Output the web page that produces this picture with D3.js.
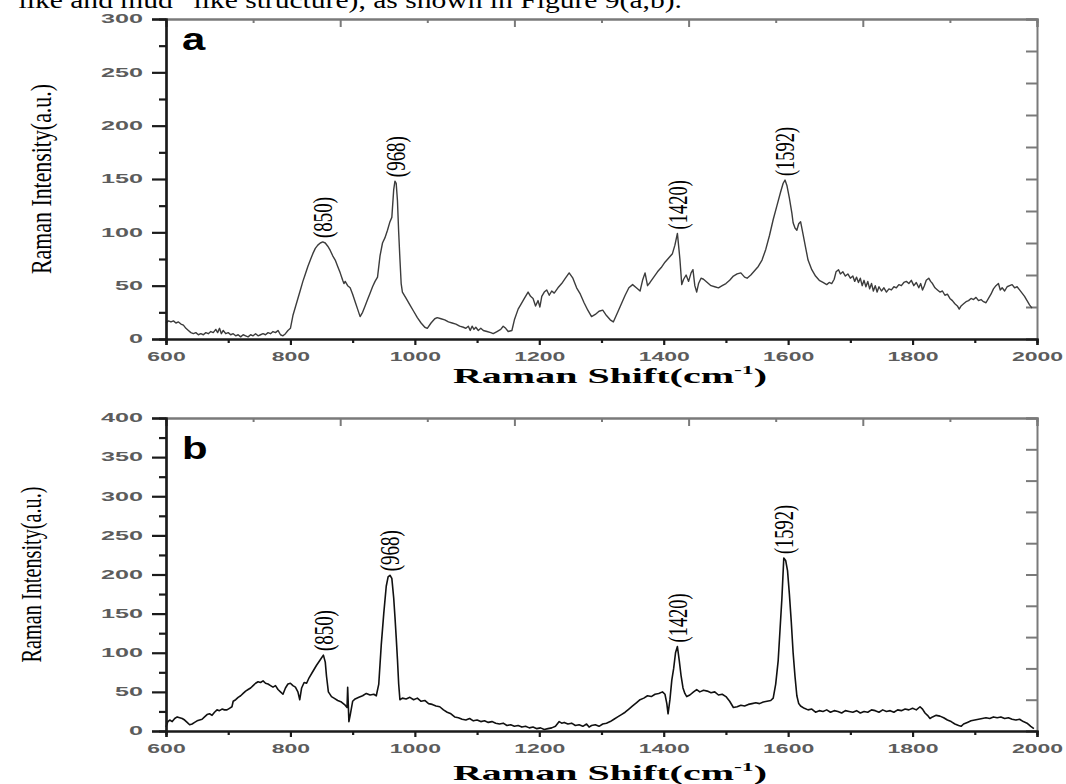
<!DOCTYPE html>
<html>
<head>
<meta charset="utf-8">
<script src="https://cdn.jsdelivr.net/npm/d3@7"></script>
<style>
  body { margin: 0; background: #fff; }
  svg { display: block; }
</style>
</head>
<body>
<svg id="chart" width="1066" height="784"></svg>
<script>
// x ticks (cm-1) and y ticks for each panel
var xMajor = [600, 800, 1000, 1200, 1400, 1600, 1800, 2000];
var xMinor = [700, 900, 1100, 1300, 1500, 1700, 1900];
var yMajorA = [0, 50, 100, 150, 200, 250, 300];
var yMajorB = [0, 50, 100, 150, 200, 250, 300, 350, 400];

// peak annotations [shift, intensity, label]
var peaksA = [[852, 91, "(850)"], [969, 148, "(968)"], [1422, 99, "(1420)"], [1595, 149, "(1592)"]];
var peaksB = [[853, 97, "(850)"], [960, 199, "(968)"], [1422, 108, "(1420)"], [1593, 221, "(1592)"]];

// spectrum a: [Raman shift, intensity]
var spectrumA = [
[600,15],[604,17],[608,16],[612,17],[616,15],[620,16],[624,14],[628,13],[632,10],[636,8],[640,6],[644,5],[648,6],[652,4],[656,5],[660,4],[664,6],[668,5],[672,7],[676,6],[680,9],[683,6],[686,10],[689,5],[692,8],[696,5],[700,6],[704,4],[708,5],[712,3],[716,4],[720,2],[724,4],[728,3],[732,2],[736,4],[740,3],[744,5],[748,3],[752,4],[756,5],[760,4],[764,6],[768,5],[772,7],[776,6],[780,8],[784,4],[788,3],[792,5],[796,8],[800,10],
[804,22],[808,30],[812,38],[816,46],[820,54],[824,61],[828,68],[832,74],[836,80],[840,85],[844,88],[848,90],[852,91],[856,90],[860,87],[864,83],[868,78],[872,74],[876,68],[880,62],[884,55],[886,52],[888,54],[892,50],[896,48],[900,42],[904,35],[908,28],[912,21],[916,25],[920,31],[924,37],[928,43],[932,49],[936,54],[940,58],[944,78],[948,90],[952,95],[956,102],[960,110],[963,114],[966,140],[968,148],[970,146],[972,130],[974,100],[976,75],[978,52],[980,44],[986,38],[992,32],[998,26],[1004,20],[1010,15],[1016,11],[1020,10],[1026,15],[1032,19],[1036,20],[1042,19],[1048,18],[1054,16],[1060,15],[1066,14],[1072,12],[1078,11],[1082,10],[1086,12],[1089,8],[1092,12],[1095,9],[1098,11],[1102,8],[1106,10],[1110,8],[1116,7],[1122,6],[1126,5],[1132,7],[1138,9],[1142,12],[1146,10],[1150,7],[1156,8],
[1160,18],[1166,28],[1170,32],[1176,38],[1182,44],[1186,40],[1190,38],[1194,31],[1198,36],[1201,30],[1204,40],[1208,44],[1212,46],[1216,41],[1220,45],[1224,43],[1230,48],[1236,52],[1242,57],[1248,62],[1254,57],[1260,48],[1266,42],[1272,34],[1278,27],[1284,21],[1290,23],[1296,26],[1302,27],[1308,22],[1314,18],[1319,16],[1326,25],[1332,33],[1338,41],[1344,48],[1350,51],[1356,48],[1362,45],[1366,55],[1370,62],[1374,50],[1378,53],[1384,58],[1390,63],[1396,67],[1402,72],[1408,76],[1414,80],[1418,88],[1422,99],[1426,75],[1429,51],[1432,56],[1436,60],[1440,54],[1444,62],[1447,65],[1450,50],[1453,44],[1456,52],[1460,57],[1464,56],[1470,53],[1476,50],[1482,49],[1488,48],[1494,50],[1500,52],[1506,55],[1512,59],[1518,61],[1524,62],[1530,58],[1534,57],[1540,60],[1546,64],[1552,68],[1558,74],[1564,84],[1570,97],[1576,112],[1582,125],[1588,138],[1592,146],[1595,149],[1598,144],[1602,132],[1606,118],[1608,109],[1611,104],[1614,102],[1617,108],[1620,110],[1624,98],[1628,86],[1632,74],[1638,65],[1644,59],[1650,55],[1656,53],[1662,51],[1666,53],[1670,52],[1674,56],[1677,63],[1681,65],[1684,61],[1688,63],[1692,59],[1696,61],[1700,57],[1704,59],[1707,54],[1710,58],[1713,53],[1716,57],[1719,50],[1722,55],[1725,49],[1728,54],[1731,47],[1734,52],[1737,45],[1740,50],[1743,44],[1746,49],[1750,45],[1754,48],[1758,44],[1762,47],[1766,46],[1770,49],[1774,48],[1778,51],[1782,50],[1786,53],[1790,54],[1794,52],[1798,55],[1802,50],[1806,53],[1810,48],[1813,52],[1816,46],[1819,50],[1822,55],[1826,57],[1829,54],[1832,52],[1836,48],[1840,46],[1844,44],[1848,45],[1852,41],[1856,42],[1860,38],[1864,36],[1868,33],[1872,31],[1875,28],[1878,31],[1882,33],[1886,35],[1890,36],[1894,38],[1898,37],[1902,39],[1906,36],[1910,37],[1914,35],[1918,34],[1922,38],[1926,42],[1930,47],[1934,50],[1938,52],[1941,46],[1944,48],[1948,45],[1952,49],[1956,50],[1960,51],[1964,48],[1968,49],[1972,46],[1976,43],[1980,40],[1984,36],[1988,32],[1992,29]
];

// spectrum b
var spectrumB = [
[600,5],[603,12],[606,14],[610,12],[614,16],[618,18],[622,17],[626,16],[630,14],[634,11],[638,8],[642,9],[646,11],[650,13],[654,14],[658,15],[662,18],[666,21],[670,22],[674,20],[678,24],[682,27],[686,26],[690,28],[694,27],[698,27],[702,29],[706,31],[708,38],[712,40],[716,43],[720,45],[724,48],[728,51],[732,53],[736,55],[740,58],[744,61],[748,63],[752,62],[756,64],[760,61],[764,60],[768,58],[772,56],[776,58],[780,53],[784,50],[788,47],[792,55],[796,60],[800,61],[804,58],[808,56],[812,50],[815,40],[818,55],[822,62],[826,61],[830,68],[836,76],[842,84],[848,91],[853,97],[856,88],[858,70],[861,50],[866,44],[870,42],[876,39],[882,37],[888,33],[891,30],[892,56],[894,12],[896,20],[900,38],[904,41],[910,43],[916,45],[922,48],[928,46],[934,47],[938,45],[942,60],[946,110],[950,150],[954,185],[957,197],[960,199],[963,195],[966,170],[968,146],[970,120],[972,92],[974,60],[976,40],[980,42],[986,41],[992,43],[998,40],[1004,42],[1010,38],[1016,39],[1022,35],[1028,34],[1034,32],[1040,31],[1046,27],[1052,24],[1058,22],[1064,18],[1070,17],[1076,15],[1082,14],[1088,16],[1094,13],[1100,14],[1106,12],[1112,13],[1118,11],[1124,12],[1130,10],[1136,9],[1142,10],[1148,7],[1154,8],[1160,6],[1166,7],[1172,5],[1178,6],[1184,4],[1190,5],[1196,3],[1202,4],[1208,2],[1214,3],[1220,4],[1226,6],[1232,12],[1236,10],[1240,11],[1246,9],[1252,10],[1258,7],[1264,8],[1270,6],[1276,9],[1280,5],[1284,7],[1290,8],[1296,6],[1302,9],[1308,10],[1314,12],[1320,15],[1326,18],[1332,21],[1338,24],[1344,28],[1350,32],[1356,36],[1362,40],[1368,42],[1374,45],[1380,44],[1386,47],[1392,48],[1398,50],[1402,47],[1405,35],[1407,22],[1410,40],[1413,65],[1416,80],[1419,100],[1422,108],[1425,90],[1428,70],[1431,55],[1434,48],[1437,44],[1442,46],[1448,50],[1453,53],[1458,50],[1464,52],[1470,51],[1476,49],[1482,50],[1488,46],[1494,47],[1500,44],[1506,38],[1512,30],[1518,31],[1524,33],[1530,32],[1536,34],[1542,35],[1548,36],[1554,35],[1560,37],[1566,38],[1572,39],[1576,42],[1580,60],[1584,90],[1587,130],[1590,170],[1593,221],[1596,218],[1599,205],[1602,175],[1605,140],[1608,100],[1611,70],[1614,45],[1617,35],[1620,32],[1626,29],[1632,27],[1638,28],[1644,24],[1650,26],[1656,25],[1662,27],[1668,24],[1674,26],[1680,25],[1686,23],[1692,26],[1698,25],[1704,24],[1710,26],[1716,23],[1722,25],[1728,24],[1734,27],[1740,26],[1746,24],[1752,27],[1758,25],[1764,26],[1770,24],[1776,27],[1782,26],[1788,28],[1794,27],[1800,29],[1806,27],[1812,31],[1816,28],[1820,23],[1824,20],[1828,16],[1832,18],[1838,20],[1844,19],[1850,17],[1856,14],[1862,12],[1868,9],[1874,7],[1878,6],[1882,9],[1888,11],[1894,13],[1900,14],[1906,15],[1912,16],[1918,17],[1924,16],[1930,18],[1936,17],[1942,18],[1948,16],[1954,17],[1960,15],[1966,14],[1972,15],[1978,12],[1984,10],[1990,6],[1995,3]
];

var svg = d3.select("#chart");

// the cut-off line of body text above the figure
svg.append("text")
  .attr("x", -2).attr("y", 8)
  .attr("font-family", "Liberation Serif").attr("font-size", 24)
  .attr("textLength", 684).attr("lengthAdjust", "spacingAndGlyphs")
  .text("\u201D like and mud\u201D like structure), as shown in  Figure 9(a,b).");

var left = 166, right = 1037;

function panel(cfg){
  var x = d3.scaleLinear().domain([600, 2000]).range([left, right]);
  var y = d3.scaleLinear().domain([0, cfg.ymax]).range([cfg.bottom, cfg.top]);
  // top / right frame carry their own 10-division ticks
  var fx = d3.scaleLinear().domain([0, 10]).range([left, right]);
  var fy = d3.scaleLinear().domain([0, 10]).range([cfg.bottom, cfg.top]);
  var g = svg.append("g");

  g.append("g").attr("transform", "translate(0," + cfg.top + ")")
    .call(d3.axisTop(fx).tickValues([1,3,5,7,9]).tickSize(-4).tickFormat(""));
  g.append("g").attr("transform", "translate(0," + cfg.top + ")")
    .call(d3.axisTop(fx).tickValues([0,2,4,6,8,10]).tickSize(-8).tickFormat(""));
  g.append("g").attr("transform", "translate(" + right + ",0)")
    .call(d3.axisRight(fy).ticks(10).tickSize(-11).tickFormat(""));
  g.selectAll(".domain, .tick line").attr("stroke", "#7a7a7a").attr("stroke-width", 2);

  // spectrum
  var line = d3.line().x(function(d){ return x(d[0]); }).y(function(d){ return y(d[1]); });
  g.append("path").datum(cfg.data)
    .attr("d", line)
    .attr("fill", "none")
    .attr("stroke", cfg.color)
    .attr("stroke-width", cfg.width)
    .attr("stroke-linejoin", "round");

  // left axis
  var minorY = d3.range(25, cfg.ymax, 50);
  g.append("g").attr("class", "ax").attr("transform", "translate(" + left + ",0)")
    .call(d3.axisLeft(y).tickValues(minorY).tickSize(7).tickFormat(""));
  var ya = g.append("g").attr("class", "ax").attr("transform", "translate(" + left + ",0)")
    .call(d3.axisLeft(y).tickValues(cfg.yticks).tickSize(14).tickPadding(9).tickFormat(d3.format("d")));
  ya.selectAll("text").each(function(){
    var t = d3.select(this);
    t.attr("textLength", t.text().length * 14).attr("lengthAdjust", "spacingAndGlyphs");
  });

  // bottom axis
  g.append("g").attr("class", "ax").attr("transform", "translate(0," + cfg.bottom + ")")
    .call(d3.axisBottom(x).tickValues(xMinor).tickSize(4).tickFormat(""));
  var xa = g.append("g").attr("class", "ax").attr("transform", "translate(0," + cfg.bottom + ")")
    .call(d3.axisBottom(x).tickValues(xMajor).tickSize(6).tickPadding(7).tickFormat(d3.format("d")));
  xa.selectAll("text").each(function(){
    var t = d3.select(this);
    t.attr("textLength", t.text().length * 12.8).attr("lengthAdjust", "spacingAndGlyphs");
  });

  g.selectAll(".ax .domain, .ax .tick line").attr("stroke", "#1a1a1a").attr("stroke-width", 2.2);
  g.selectAll(".ax text")
    .attr("font-family", "Liberation Sans").attr("font-weight", "bold")
    .attr("font-size", 12).attr("fill", "#5c5c5c");

  // peak labels
  cfg.peaks.forEach(function(p){
    var px = x(p[0]), py = y(p[1]) - 4;
    g.append("text")
      .attr("transform", "translate(" + px + "," + py + ") rotate(-90)")
      .attr("dy", "0.34em")
      .attr("font-family", "Liberation Serif").attr("font-size", 27)
      .attr("textLength", p[2].length * 8.2).attr("lengthAdjust", "spacingAndGlyphs")
      .text(p[2]);
  });

  // panel letter
  g.append("text")
    .attr("transform", "translate(182," + cfg.letterY + ") scale(1.35,1)")
    .attr("font-family", "Liberation Sans").attr("font-weight", "bold")
    .attr("font-size", 31).text(cfg.letter);

  // y title
  g.append("text")
    .attr("transform", "translate(" + cfg.ytitleX + "," + y(cfg.ymax / 2) + ") rotate(-90)")
    .attr("text-anchor", "middle").attr("dy", "0.3em")
    .attr("font-family", "Liberation Serif").attr("font-size", 29)
    .attr("textLength", cfg.ytitleLen).attr("lengthAdjust", "spacingAndGlyphs")
    .text("Raman Intensity(a.u.)");

  // x title
  var xt = g.append("text")
    .attr("x", 453).attr("y", cfg.xtitleY)
    .attr("font-family", "Liberation Serif").attr("font-weight", "bold")
    .attr("font-size", 22)
    .attr("textLength", 314).attr("lengthAdjust", "spacingAndGlyphs");
  xt.append("tspan").text("Raman Shift(cm");
  xt.append("tspan").attr("dy", -9).attr("font-size", 13).text("-1");
  xt.append("tspan").attr("dy", 9).text(")");
}

panel({ top: 19, bottom: 339, ymax: 300, yticks: yMajorA, data: spectrumA, peaks: peaksA,
        color: "#3c3c3c", width: 1.4, letter: "a", letterY: 50,
        ytitleX: 42, ytitleLen: 190, xtitleY: 383 });
panel({ top: 418, bottom: 731, ymax: 400, yticks: yMajorB, data: spectrumB, peaks: peaksB,
        color: "#111", width: 1.6, letter: "b", letterY: 459,
        ytitleX: 32, ytitleLen: 176, xtitleY: 780 });
</script>
</body>
</html>
